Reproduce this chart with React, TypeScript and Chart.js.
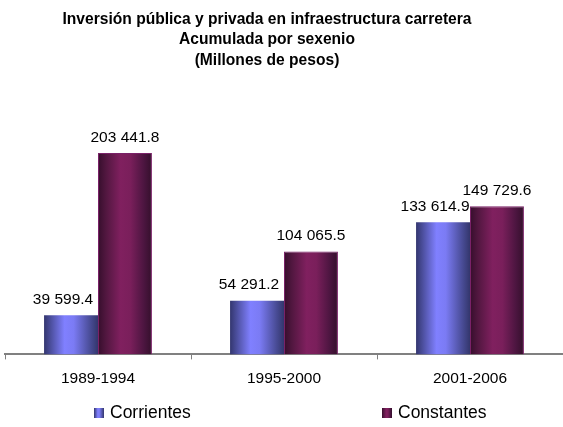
import React, { useEffect, useRef } from "react";
import { Chart, registerables } from "chart.js";

Chart.register(...registerables);

const categories = ["1989-1994", "1995-2000", "2001-2006"];
const seriesNames = ["Corrientes", "Constantes"];
const corrientes = [39599.4, 54291.2, 133614.9];
const constantes = [203441.8, 104065.5, 149729.6];
const titleLines = [
  "Inversión pública y privada en infraestructura carretera",
  "Acumulada por sexenio",
  "(Millones de pesos)",
];

const FONT = "'Liberation Sans', Arial, Helvetica, sans-serif";
const CAT_PCT = 0.58;

const blueStops: [number, string][] = [
  [0, "#33366f"],
  [0.12, "#4b4e9c"],
  [0.38, "#8080ff"],
  [0.55, "#7b7bf4"],
  [0.85, "#4a4d98"],
  [1, "#33366c"],
];
const maroonStops: [number, string][] = [
  [0, "#360e2c"],
  [0.15, "#521740"],
  [0.42, "#80205f"],
  [0.6, "#7a1f5b"],
  [0.85, "#4c1540"],
  [1, "#340f2b"],
];
const stopsBySeries = [blueStops, maroonStops];
const fallback = ["#8080ff", "#80205f"];
const labelOffset = [-8, 0];

function grad(ctx: CanvasRenderingContext2D, x0: number, x1: number, stops: [number, string][]) {
  const g = ctx.createLinearGradient(x0, 0, x1, 0);
  stops.forEach(([o, c]) => g.addColorStop(o, c));
  return g;
}

function fmt(v: number) {
  const [i, d] = v.toFixed(1).split(".");
  return i.replace(/\B(?=(\d{3})+(?!\d))/g, " ") + "." + d;
}

const barFill = (c: any) => {
  const chart = c.chart;
  const xs = chart.scales?.x;
  if (!xs || !chart.chartArea || c.dataIndex === undefined) return fallback[c.datasetIndex];
  const catW = (xs.right - xs.left) / categories.length;
  const bw = (catW * CAT_PCT) / 2;
  const center = xs.getPixelForValue(c.dataIndex);
  const x0 = center - bw + c.datasetIndex * bw;
  return grad(chart.ctx, x0, x0 + bw, stopsBySeries[c.datasetIndex]);
};

const titlePlugin = {
  id: "customTitle",
  afterDraw(chart: any) {
    const ctx = chart.ctx;
    ctx.save();
    ctx.fillStyle = "#000";
    ctx.font = `bold 15.6px ${FONT}`;
    ctx.textAlign = "center";
    ctx.textBaseline = "middle";
    titleLines.forEach((t, i) => ctx.fillText(t, 267, 19.5 + i * 20.5));
    ctx.restore();
  },
};

const valueLabels = {
  id: "valueLabels",
  afterDatasetsDraw(chart: any) {
    const ctx = chart.ctx;
    ctx.save();
    ctx.fillStyle = "#000";
    ctx.font = `15.5px ${FONT}`;
    ctx.textAlign = "center";
    ctx.textBaseline = "bottom";
    chart.data.datasets.forEach((ds: any, di: number) => {
      const meta = chart.getDatasetMeta(di);
      meta.data.forEach((el: any, i: number) => {
        ctx.fillText(fmt(ds.data[i]), el.x + labelOffset[di], el.y - 8);
      });
    });
    ctx.restore();
  },
};

const legendPos = [94, 382];
const customLegend = {
  id: "customLegend",
  afterDraw(chart: any) {
    const ctx = chart.ctx;
    ctx.save();
    ctx.font = `17.5px ${FONT}`;
    ctx.textAlign = "left";
    ctx.textBaseline = "middle";
    seriesNames.forEach((name, i) => {
      const x = legendPos[i];
      const y = 408;
      ctx.fillStyle = grad(ctx, x, x + 10, stopsBySeries[i]);
      ctx.fillRect(x, y, 10, 10);
      ctx.fillStyle = "#000";
      ctx.fillText(name, x + 16, y + 5.5);
    });
    ctx.restore();
  },
};

export default function App() {
  const ref = useRef<HTMLCanvasElement>(null);
  useEffect(() => {
    if (!ref.current) return;
    const chart = new Chart(ref.current, {
      type: "bar",
      data: {
        labels: categories,
        datasets: [
          {
            label: seriesNames[0],
            data: corrientes,
            backgroundColor: barFill,
            borderWidth: 0,
            categoryPercentage: CAT_PCT,
            barPercentage: 1,
          },
          {
            label: seriesNames[1],
            data: constantes,
            backgroundColor: barFill,
            borderColor: "#7a2168",
            borderWidth: 1,
            categoryPercentage: CAT_PCT,
            barPercentage: 1,
          },
        ],
      },
      options: {
        responsive: false,
        animation: false,
        layout: { padding: { top: 107, left: 5, right: 0, bottom: 29 } },
        plugins: {
          legend: { display: false },
          title: { display: false },
          tooltip: { enabled: false },
        },
        scales: {
          x: {
            offset: true,
            grid: {
              display: true,
              offset: true,
              drawOnChartArea: false,
              drawTicks: true,
              tickLength: 5,
              color: "#808080",
            },
            border: { display: true, color: "#808080", width: 2 },
            ticks: { color: "#000", font: { size: 15.5, family: FONT }, padding: 10 },
          },
          y: { display: false, min: 0, max: 250000 },
        },
      },
      plugins: [valueLabels, titlePlugin, customLegend],
    });
    return () => chart.destroy();
  }, []);
  return (
    <div style={{ position: "absolute", left: 0, top: 0, width: 563, height: 427, background: "#fff" }}>
      <canvas ref={ref} width={563} height={427} />
    </div>
  );
}
